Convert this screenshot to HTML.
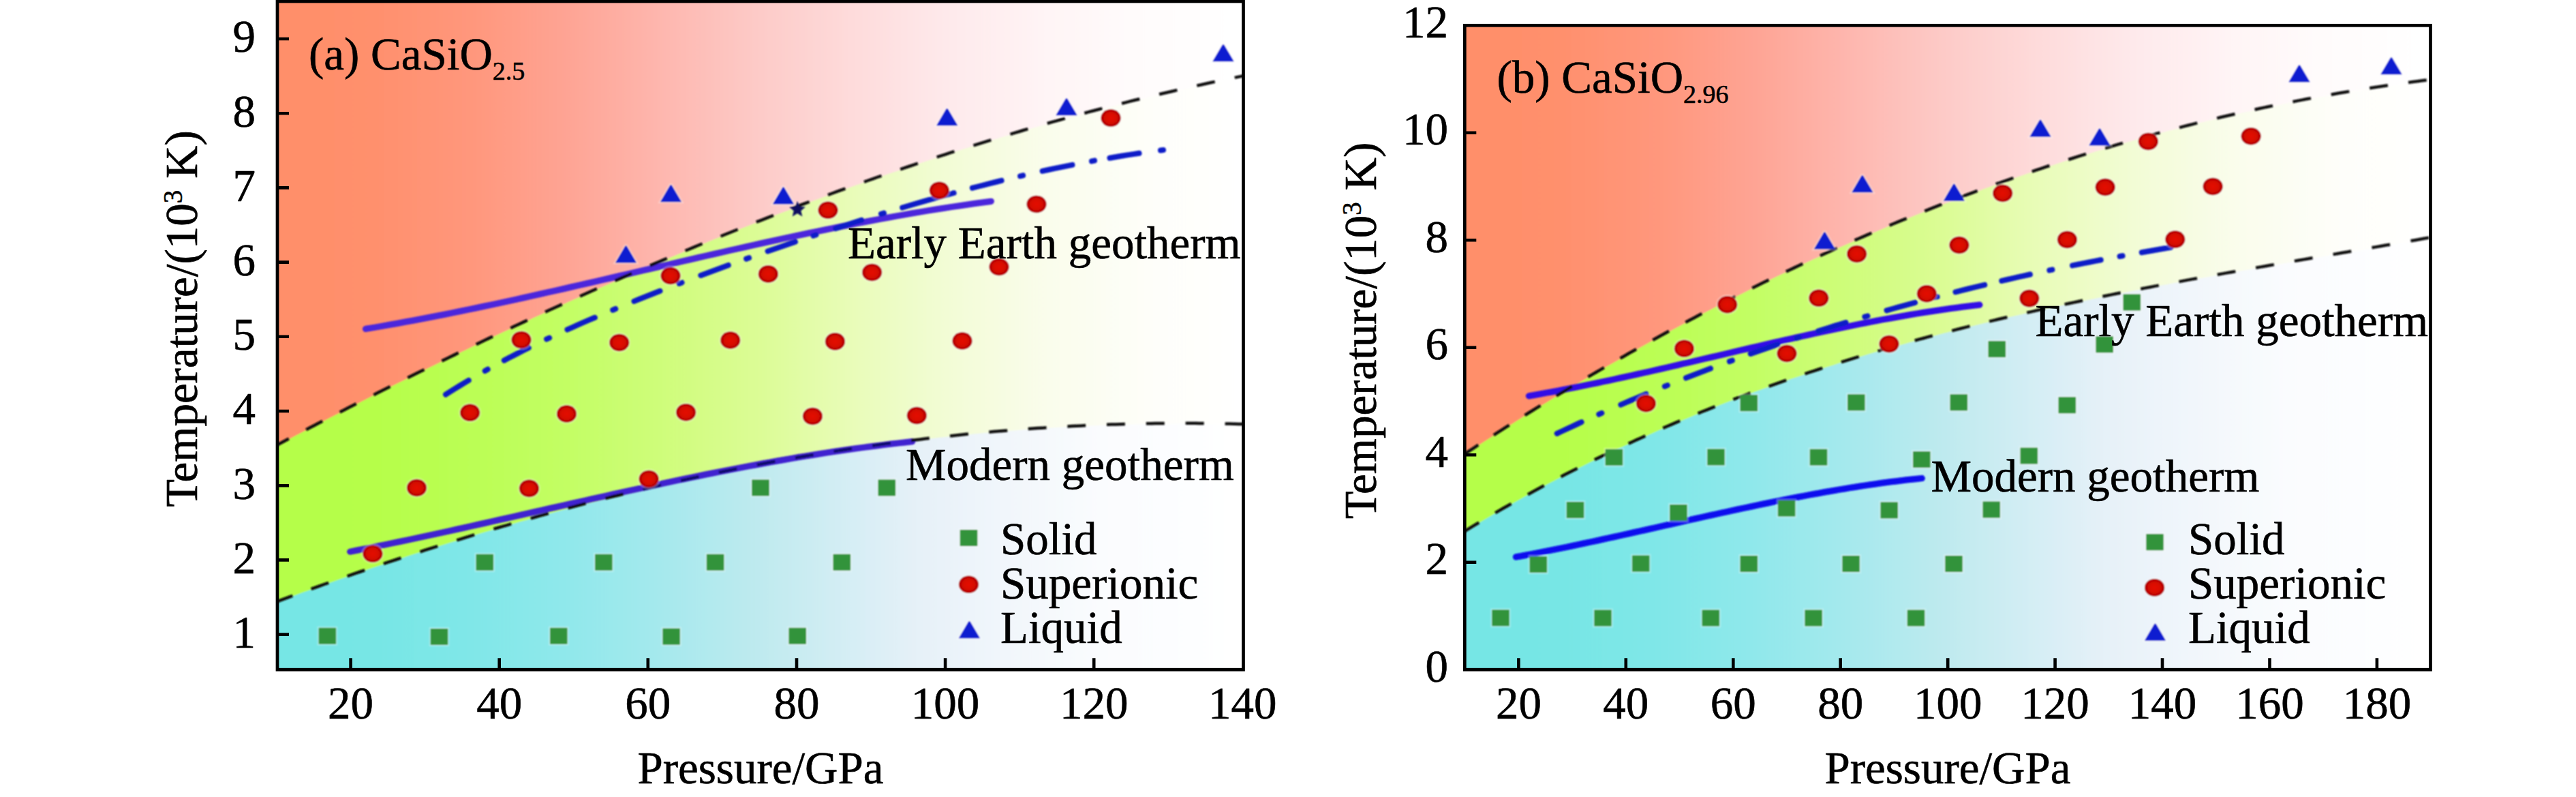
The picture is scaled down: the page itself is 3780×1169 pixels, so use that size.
<!DOCTYPE html>
<html><head><meta charset="utf-8"><title>Phase diagram</title>
<style>html,body{margin:0;padding:0;background:#fff;}svg{display:block;}</style></head>
<body>
<svg width="3780" height="1169" viewBox="0 0 3780 1169" font-family='"Liberation Serif", serif' fill="#000">
<defs><filter id="soft" x="-5%" y="-5%" width="110%" height="110%"><feGaussianBlur stdDeviation="1.3"/></filter><filter id="soft0" x="-5%" y="-5%" width="110%" height="110%"><feGaussianBlur stdDeviation="1.0"/></filter><radialGradient id="rg"><stop offset="0" stop-color="#e40c02"/><stop offset="0.55" stop-color="#d80a04"/><stop offset="1" stop-color="#a80000"/></radialGradient></defs>
<rect width="3780" height="1169" fill="#fff"/>
<defs><clipPath id="clipL"><rect x="407.0" y="2.0" width="1417.5" height="980.2"/></clipPath>
<linearGradient id="goL" gradientUnits="userSpaceOnUse" x1="407.0" y1="0" x2="1824.5" y2="0"><stop offset="0" stop-color="rgb(255,143,106)"/><stop offset="0.1" stop-color="rgb(255,144,109)"/><stop offset="0.2" stop-color="rgb(255,151,124)"/><stop offset="0.3" stop-color="rgb(254,164,148)"/><stop offset="0.4" stop-color="rgb(254,183,175)"/><stop offset="0.5" stop-color="rgb(253,203,200)"/><stop offset="0.6" stop-color="rgb(254,220,220)"/><stop offset="0.7" stop-color="rgb(254,234,236)"/><stop offset="0.8" stop-color="rgb(255,245,246)"/><stop offset="0.9" stop-color="rgb(255,252,252)"/><stop offset="1" stop-color="rgb(255,255,255)"/></linearGradient>
<linearGradient id="ggL" gradientUnits="userSpaceOnUse" x1="407.0" y1="0" x2="1824.5" y2="0"><stop offset="0" stop-color="rgb(181,254,72)"/><stop offset="0.1" stop-color="rgb(182,254,74)"/><stop offset="0.2" stop-color="rgb(187,254,84)"/><stop offset="0.3" stop-color="rgb(195,254,100)"/><stop offset="0.4" stop-color="rgb(207,253,123)"/><stop offset="0.5" stop-color="rgb(220,252,150)"/><stop offset="0.6" stop-color="rgb(233,252,186)"/><stop offset="0.7" stop-color="rgb(243,252,215)"/><stop offset="0.8" stop-color="rgb(250,253,236)"/><stop offset="0.9" stop-color="rgb(254,254,249)"/><stop offset="1" stop-color="rgb(255,255,255)"/></linearGradient>
<linearGradient id="gcL" gradientUnits="userSpaceOnUse" x1="407.0" y1="0" x2="1824.5" y2="0"><stop offset="0" stop-color="rgb(118,230,229)"/><stop offset="0.1" stop-color="rgb(119,230,229)"/><stop offset="0.2" stop-color="rgb(128,231,232)"/><stop offset="0.3" stop-color="rgb(144,232,235)"/><stop offset="0.4" stop-color="rgb(166,233,237)"/><stop offset="0.5" stop-color="rgb(191,234,239)"/><stop offset="0.6" stop-color="rgb(215,238,245)"/><stop offset="0.665" stop-color="rgb(230,241,248)"/><stop offset="0.75" stop-color="rgb(241,246,251)"/><stop offset="0.85" stop-color="rgb(250,252,254)"/><stop offset="1" stop-color="rgb(255,255,255)"/></linearGradient>
</defs>
<g clip-path="url(#clipL)">
<g filter="url(#soft0)">
<rect x="398.0" y="-7.0" width="1435.5" height="998.2" fill="url(#goL)"/>
<path d="M398.0,657.8 L415.2,648.9 L425.5,643.5 L435.7,638.1 L445.9,632.7 L456.1,627.4 L466.4,622.0 L476.6,616.7 L486.8,611.4 L497.0,606.2 L507.3,600.9 L517.5,595.7 L527.7,590.5 L537.9,585.3 L548.2,580.1 L558.4,574.9 L568.6,569.8 L578.9,564.6 L589.1,559.5 L599.3,554.4 L609.5,549.4 L619.8,544.3 L630.0,539.3 L640.2,534.3 L650.4,529.3 L660.7,524.3 L670.9,519.3 L681.1,514.4 L691.3,509.5 L701.6,504.6 L711.8,499.7 L722.0,494.8 L732.3,490.0 L742.5,485.2 L752.7,480.4 L762.9,475.6 L773.2,470.9 L783.4,466.1 L793.6,461.4 L803.8,456.7 L814.1,452.0 L824.3,447.4 L834.5,442.8 L844.7,438.2 L855.0,433.6 L865.2,429.0 L875.4,424.5 L885.7,419.9 L895.9,415.4 L906.1,411.0 L916.3,406.5 L926.6,402.1 L936.8,397.7 L947.0,393.3 L957.2,388.9 L967.5,384.6 L977.7,380.2 L987.9,375.9 L998.1,371.7 L1008.4,367.4 L1018.6,363.2 L1028.8,359.0 L1039.1,354.8 L1049.3,350.6 L1059.5,346.5 L1069.7,342.4 L1080.0,338.3 L1090.2,334.3 L1100.4,330.2 L1110.6,326.2 L1120.9,322.2 L1131.1,318.2 L1141.3,314.3 L1151.5,310.4 L1161.8,306.5 L1172.0,302.6 L1182.2,298.8 L1192.4,295.0 L1202.7,291.2 L1212.9,287.4 L1223.1,283.7 L1233.4,280.0 L1243.6,276.3 L1253.8,272.6 L1264.0,269.0 L1274.3,265.3 L1284.5,261.8 L1294.7,258.2 L1304.9,254.7 L1315.2,251.2 L1325.4,247.7 L1335.6,244.2 L1345.8,240.8 L1356.1,237.4 L1366.3,234.0 L1376.5,230.7 L1386.8,227.3 L1397.0,224.1 L1407.2,220.8 L1417.4,217.5 L1427.7,214.3 L1437.9,211.2 L1448.1,208.0 L1458.3,204.9 L1468.6,201.8 L1478.8,198.7 L1489.0,195.6 L1499.2,192.6 L1509.5,189.6 L1519.7,186.7 L1529.9,183.8 L1540.2,180.9 L1550.4,178.0 L1560.6,175.1 L1570.8,172.3 L1581.1,169.5 L1591.3,166.8 L1601.5,164.1 L1611.7,161.4 L1622.0,158.7 L1632.2,156.1 L1642.4,153.4 L1652.6,150.9 L1662.9,148.3 L1673.1,145.8 L1683.3,143.3 L1693.6,140.8 L1703.8,138.4 L1714.0,136.0 L1724.2,133.7 L1734.5,131.3 L1744.7,129.0 L1754.9,126.7 L1765.1,124.5 L1775.4,122.3 L1785.6,120.1 L1795.8,118.0 L1806.0,115.8 L1816.3,113.8 L1833.5,111.7 L1833.5,991.2 L398.0,991.2Z" fill="url(#ggL)"/>
<path d="M398.0,887.1 L415.2,879.8 L425.5,876.1 L435.7,872.3 L445.9,868.6 L456.1,864.9 L466.4,861.2 L476.6,857.5 L486.8,853.9 L497.0,850.3 L507.3,846.7 L517.5,843.1 L527.7,839.6 L537.9,836.1 L548.2,832.6 L558.4,829.2 L568.6,825.8 L578.9,822.3 L589.1,819.0 L599.3,815.6 L609.5,812.3 L619.8,809.0 L630.0,805.7 L640.2,802.5 L650.4,799.3 L660.7,796.1 L670.9,792.9 L681.1,789.7 L691.3,786.6 L701.6,783.5 L711.8,780.5 L722.0,777.4 L732.3,774.4 L742.5,771.5 L752.7,768.5 L762.9,765.6 L773.2,762.7 L783.4,759.8 L793.6,756.9 L803.8,754.1 L814.1,751.3 L824.3,748.6 L834.5,745.8 L844.7,743.1 L855.0,740.4 L865.2,737.8 L875.4,735.2 L885.7,732.6 L895.9,730.0 L906.1,727.5 L916.3,724.9 L926.6,722.5 L936.8,720.0 L947.0,717.6 L957.2,715.2 L967.5,712.8 L977.7,710.4 L987.9,708.1 L998.1,705.8 L1008.4,703.6 L1018.6,701.4 L1028.8,699.2 L1039.1,697.0 L1049.3,694.8 L1059.5,692.7 L1069.7,690.7 L1080.0,688.6 L1090.2,686.6 L1100.4,684.6 L1110.6,682.6 L1120.9,680.7 L1131.1,678.8 L1141.3,676.9 L1151.5,675.0 L1161.8,673.2 L1172.0,671.4 L1182.2,669.7 L1192.4,668.0 L1202.7,666.3 L1212.9,664.6 L1223.1,663.0 L1233.4,661.4 L1243.6,659.8 L1253.8,658.2 L1264.0,656.7 L1274.3,655.2 L1284.5,653.8 L1294.7,652.4 L1304.9,651.0 L1315.2,649.6 L1325.4,648.3 L1335.6,647.0 L1345.8,645.7 L1356.1,644.5 L1366.3,643.3 L1376.5,642.1 L1386.8,641.0 L1397.0,639.9 L1407.2,638.8 L1417.4,637.8 L1427.7,636.8 L1437.9,635.8 L1448.1,634.8 L1458.3,633.9 L1468.6,633.0 L1478.8,632.2 L1489.0,631.4 L1499.2,630.6 L1509.5,629.8 L1519.7,629.1 L1529.9,628.4 L1540.2,627.7 L1550.4,627.1 L1560.6,626.5 L1570.8,626.0 L1581.1,625.5 L1591.3,625.0 L1601.5,624.5 L1611.7,624.1 L1622.0,623.7 L1632.2,623.3 L1642.4,623.0 L1652.6,622.7 L1662.9,622.5 L1673.1,622.2 L1683.3,622.0 L1693.6,621.9 L1703.8,621.8 L1714.0,621.7 L1724.2,621.6 L1734.5,621.6 L1744.7,621.6 L1754.9,621.7 L1765.1,621.7 L1775.4,621.9 L1785.6,622.0 L1795.8,622.2 L1806.0,622.4 L1816.3,622.7 L1833.5,623.0 L1833.5,991.2 L398.0,991.2Z" fill="url(#gcL)"/>
</g>
<g filter="url(#soft)">
<path d="M513.7,809.2 L524.1,807.1 L534.6,805.0 L545.0,803.0 L555.5,800.8 L565.9,798.7 L576.4,796.5 L586.8,794.4 L597.2,792.2 L607.7,790.0 L618.1,787.7 L628.6,785.5 L639.0,783.2 L649.4,781.0 L659.9,778.7 L670.3,776.4 L680.8,774.1 L691.2,771.8 L701.7,769.4 L712.1,767.1 L722.5,764.8 L733.0,762.4 L743.4,760.1 L753.9,757.7 L764.3,755.4 L774.7,753.0 L785.2,750.6 L795.6,748.3 L806.1,745.9 L816.5,743.6 L827.0,741.2 L837.4,738.9 L847.8,736.5 L858.3,734.2 L868.7,731.8 L879.2,729.5 L889.6,727.2 L900.0,724.8 L910.5,722.5 L920.9,720.2 L931.4,718.0 L941.8,715.7 L952.3,713.4 L962.7,711.2 L973.1,709.0 L983.6,706.7 L994.0,704.5 L1004.5,702.4 L1014.9,700.2 L1025.3,698.1 L1035.8,695.9 L1046.2,693.9 L1056.7,691.8 L1067.1,689.7 L1077.6,687.7 L1088.0,685.7 L1098.4,683.7 L1108.9,681.8 L1119.3,679.9 L1129.8,678.0 L1140.2,676.1 L1150.6,674.3 L1161.1,672.5 L1171.5,670.7 L1182.0,669.0 L1192.4,667.3 L1202.9,665.6 L1213.3,664.0 L1223.7,662.4 L1234.2,660.9 L1244.6,659.4 L1255.1,657.9 L1265.5,656.5 L1275.9,655.1 L1286.4,653.8 L1296.8,652.5 L1307.3,651.2 L1317.7,650.0 L1328.2,648.8 L1338.6,647.7" fill="none" stroke="#4022d0" stroke-width="9.3" stroke-linecap="round"/>
<path d="M536.6,482.4 L548.2,480.5 L559.8,478.5 L571.4,476.4 L583.1,474.3 L594.7,472.2 L606.3,470.1 L617.9,467.9 L629.5,465.6 L641.1,463.4 L652.8,461.1 L664.4,458.7 L676.0,456.4 L687.6,454.0 L699.2,451.6 L710.8,449.1 L722.5,446.7 L734.1,444.2 L745.7,441.7 L757.3,439.2 L768.9,436.6 L780.5,434.0 L792.2,431.4 L803.8,428.8 L815.4,426.2 L827.0,423.6 L838.6,420.9 L850.2,418.3 L861.9,415.6 L873.5,413.0 L885.1,410.3 L896.7,407.6 L908.3,404.9 L919.9,402.2 L931.6,399.5 L943.2,396.8 L954.8,394.1 L966.4,391.4 L978.0,388.7 L989.6,386.0 L1001.3,383.3 L1012.9,380.6 L1024.5,377.9 L1036.1,375.3 L1047.7,372.6 L1059.3,370.0 L1071.0,367.3 L1082.6,364.7 L1094.2,362.1 L1105.8,359.5 L1117.4,356.9 L1129.0,354.4 L1140.7,351.9 L1152.3,349.3 L1163.9,346.8 L1175.5,344.4 L1187.1,341.9 L1198.7,339.5 L1210.4,337.1 L1222.0,334.8 L1233.6,332.4 L1245.2,330.1 L1256.8,327.8 L1268.4,325.6 L1280.1,323.4 L1291.7,321.2 L1303.3,319.1 L1314.9,317.0 L1326.5,315.0 L1338.1,312.9 L1349.8,311.0 L1361.4,309.0 L1373.0,307.2 L1384.6,305.3 L1396.2,303.5 L1407.8,301.8 L1419.5,300.1 L1431.1,298.4 L1442.7,296.9 L1454.3,295.3" fill="none" stroke="#4c26dc" stroke-width="9.3" stroke-linecap="round"/>
<path d="M654.0,578.7 L660.7,574.4 L667.5,570.2 L674.2,566.0 L681.0,561.9 L687.7,557.9 M711.7,544.0 L715.7,541.7 M739.8,528.6 L747.0,524.8 L754.2,521.1 L761.4,517.4 L768.6,513.7 L775.8,510.2 M802.1,497.4 L806.1,495.6 M832.5,483.4 L840.6,479.8 L848.7,476.2 L856.7,472.7 L864.8,469.2 L872.9,465.8 M899.2,454.7 L903.2,453.0 M930.5,441.9 L938.1,438.8 L945.7,435.8 L953.3,432.8 L960.9,429.7 L968.5,426.8 M996.5,415.9 L1000.5,414.4 M1028.3,403.9 L1036.4,400.9 L1044.5,397.9 L1052.6,394.9 L1060.7,392.0 L1068.8,389.0 M1095.1,379.6 L1099.1,378.2 M1126.6,368.5 L1134.7,365.7 L1142.8,363.0 L1150.8,360.2 L1158.9,357.4 L1167.0,354.7 M1193.4,345.8 L1197.4,344.5 M1226.0,335.1 L1233.6,332.6 L1241.3,330.2 L1248.9,327.7 L1256.6,325.3 L1264.2,322.9 M1293.0,313.9 L1297.0,312.7 M1324.2,304.5 L1339.3,300.0 L1354.4,295.6 L1369.4,291.3 L1384.5,287.1 L1399.6,283.0 M1426.9,275.7 L1435.4,273.5 L1444.0,271.3 L1452.5,269.1 L1461.1,267.0 L1469.6,264.9 M1497.1,258.3 L1501.1,257.4 M1529.7,250.9 L1538.5,249.0 L1547.2,247.2 L1556.0,245.3 L1564.7,243.6 L1573.5,241.8 M1602.0,236.4 L1606.0,235.6 M1628.5,231.7 L1637.1,230.2 L1645.7,228.8 L1654.3,227.4 L1662.9,226.1 L1671.5,224.8 M1703.0,220.5 L1707.0,220.0" fill="none" stroke="#0a1ec8" stroke-width="8" stroke-linecap="round"/>
<path d="M405.0,653.5 L409.7,651.0 L414.4,648.5 L419.1,646.0 L423.8,643.5 M449.2,630.2 L455.2,627.1 L461.2,623.9 L467.2,620.8 L473.2,617.7 M498.7,604.5 L504.7,601.4 L510.7,598.3 L516.7,595.3 L522.7,592.2 M548.4,579.2 L554.4,576.1 L560.5,573.1 L566.5,570.0 L572.5,567.0 M598.3,554.1 L604.4,551.1 L610.4,548.1 L616.5,545.1 L622.5,542.2 M648.4,529.4 L654.5,526.5 L660.6,523.5 L666.6,520.6 L672.7,517.6 M698.8,505.1 L704.8,502.2 L710.9,499.3 L717.0,496.4 L723.1,493.5 M749.3,481.2 L755.4,478.3 L761.5,475.5 L767.7,472.6 L773.8,469.8 M800.1,457.6 L806.2,454.8 L812.4,452.0 L818.5,449.2 L824.7,446.4 M851.1,434.5 L857.3,431.7 L863.4,429.0 L869.6,426.2 L875.8,423.5 M902.4,411.8 L908.5,409.1 L914.7,406.4 L920.9,403.7 L927.1,401.0 M953.9,389.6 L960.1,386.9 L966.3,384.3 L972.5,381.6 L978.7,379.0 M1005.6,367.8 L1011.8,365.2 L1018.1,362.6 L1024.3,360.0 L1030.5,357.5 M1057.6,346.5 L1063.8,344.0 L1070.1,341.5 L1076.4,339.0 L1082.6,336.5 M1109.8,325.7 L1116.1,323.3 L1122.4,320.8 L1128.7,318.4 L1135.0,316.0 M1162.3,305.5 L1168.6,303.1 L1174.9,300.7 L1181.2,298.4 L1187.6,296.0 M1215.0,285.8 L1221.4,283.5 L1227.7,281.2 L1234.0,278.9 L1240.4,276.6 M1268.0,266.8 L1274.4,264.5 L1280.7,262.3 L1287.1,260.0 L1293.5,257.8 M1321.2,248.3 L1327.6,246.1 L1334.0,244.0 L1340.4,241.8 L1346.8,239.7 M1374.7,230.4 L1381.2,228.4 L1387.6,226.3 L1394.0,224.2 L1400.4,222.1 M1428.5,213.3 L1434.9,211.3 L1441.4,209.3 L1447.8,207.3 L1454.3,205.3 M1482.5,196.8 L1489.0,194.9 L1495.5,193.0 L1501.9,191.0 L1508.4,189.2 M1536.8,181.0 L1543.3,179.2 L1549.8,177.4 L1556.3,175.5 L1562.8,173.7 M1591.3,166.0 L1597.8,164.2 L1604.3,162.5 L1610.9,160.8 L1617.4,159.1 M1646.1,151.7 L1652.6,150.1 L1659.1,148.4 L1665.7,146.8 L1672.3,145.2 M1701.1,138.3 L1707.6,136.7 L1714.2,135.2 L1720.8,133.7 L1727.4,132.1 M1756.3,125.6 L1762.9,124.2 L1769.5,122.8 L1776.1,121.3 L1782.7,119.9 M1811.8,113.9 L1815.4,113.1 L1819.1,112.4 L1822.8,111.6 L1826.5,110.9" fill="none" stroke="#0e0e10" stroke-width="4.5"/>
<path d="M405.0,882.8 L411.1,880.6 L417.1,878.3 L423.2,876.1 L429.3,873.9 M456.6,863.9 L463.0,861.6 L469.3,859.3 L475.7,857.0 L482.1,854.8 M509.6,845.1 L516.0,842.9 L522.4,840.7 L528.8,838.5 L535.2,836.3 M562.9,826.9 L569.3,824.7 L575.7,822.6 L582.1,820.5 L588.5,818.4 M616.5,809.3 L622.9,807.2 L629.3,805.1 L635.8,803.1 L642.2,801.1 M670.3,792.3 L676.8,790.3 L683.2,788.3 L689.7,786.3 L696.1,784.4 M724.4,775.9 L730.9,774.0 L737.4,772.1 L743.9,770.3 L750.3,768.4 M778.8,760.3 L785.3,758.5 L791.8,756.6 L798.3,754.8 L804.8,753.1 M833.5,745.3 L840.0,743.6 L846.5,741.9 L853.1,740.1 L859.6,738.4 M888.4,731.1 L895.0,729.4 L901.5,727.8 L908.1,726.2 L914.6,724.6 M1337.0,646.0 L1343.7,645.2 L1350.4,644.4 L1357.1,643.6 L1363.8,642.8 M1394.0,639.4 L1400.8,638.7 L1407.5,638.0 L1414.2,637.3 L1420.9,636.6 M1451.3,633.7 L1458.0,633.1 L1464.7,632.6 L1471.5,632.0 L1478.2,631.4 M1508.7,629.1 L1515.4,628.6 L1522.2,628.1 L1528.9,627.7 L1535.6,627.2 M1566.3,625.4 L1573.0,625.1 L1579.7,624.7 L1586.5,624.4 L1593.2,624.1 M1624.0,622.8 L1630.7,622.6 L1637.4,622.4 L1644.2,622.2 L1650.9,622.0 M1681.8,621.3 L1688.5,621.2 L1695.3,621.1 L1702.0,621.0 L1708.8,620.9 M1739.7,620.8 L1746.4,620.8 L1753.2,620.8 L1759.9,620.9 L1766.7,621.0 M1797.6,621.4 L1804.4,621.6 L1811.1,621.7 L1817.9,621.9 L1824.6,622.1" fill="none" stroke="#0e0e10" stroke-width="4.5"/>
<path d="M943.6,717.6 L950.2,716.0 L956.8,714.5 L963.4,712.9 L969.9,711.4 M999.1,704.8 L1005.7,703.4 L1012.3,701.9 L1018.9,700.5 L1025.5,699.1 M1054.8,692.9 L1061.4,691.5 L1068.1,690.2 L1074.7,688.9 L1081.3,687.5 M1110.8,681.8 L1117.4,680.5 L1124.1,679.3 L1130.7,678.0 L1137.4,676.8 M1167.0,671.5 L1173.7,670.4 L1180.3,669.2 L1187.0,668.1 L1193.6,667.0 M1223.5,662.1 L1230.1,661.1 L1236.8,660.0 L1243.5,659.0 L1250.1,658.0 M1280.1,653.6 L1286.8,652.7 L1293.5,651.7 L1300.2,650.8 L1306.9,649.9" fill="none" stroke="#0c0a6a" stroke-width="4.5"/>
<g fill="#32933a" stroke="#fff" stroke-opacity="0.3" stroke-width="4" paint-order="stroke">
<rect x="1103.2" y="703.4" width="25.6" height="24"/>
<rect x="1288.5" y="703.4" width="25.6" height="24"/>
<rect x="698.5" y="812.8" width="25.6" height="24"/>
<rect x="873.0" y="812.8" width="25.6" height="24"/>
<rect x="1036.8" y="812.8" width="25.6" height="24"/>
<rect x="1222.5" y="812.8" width="25.6" height="24"/>
<rect x="467.6" y="920.8" width="25.6" height="24"/>
<rect x="631.7" y="922.0" width="25.6" height="24"/>
<rect x="807.0" y="920.8" width="25.6" height="24"/>
<rect x="972.3" y="921.7" width="25.6" height="24"/>
<rect x="1157.4" y="920.8" width="25.6" height="24"/>
<rect x="1408.7" y="777.0" width="25.6" height="24"/>
</g><g fill="url(#rg)" stroke="#fff" stroke-opacity="0.3" stroke-width="4" paint-order="stroke">
<ellipse cx="1630.0" cy="173.1" rx="14.6" ry="12.8"/>
<ellipse cx="1215.0" cy="308.2" rx="14.6" ry="12.8"/>
<ellipse cx="1378.3" cy="279.3" rx="14.6" ry="12.8"/>
<ellipse cx="1521.0" cy="299.5" rx="14.6" ry="12.8"/>
<ellipse cx="984.0" cy="404.5" rx="14.6" ry="12.8"/>
<ellipse cx="1127.3" cy="401.9" rx="14.6" ry="12.8"/>
<ellipse cx="1279.6" cy="399.5" rx="14.6" ry="12.8"/>
<ellipse cx="1466.0" cy="391.5" rx="14.6" ry="12.8"/>
<ellipse cx="765.0" cy="498.5" rx="14.6" ry="12.8"/>
<ellipse cx="908.7" cy="502.5" rx="14.6" ry="12.8"/>
<ellipse cx="1071.7" cy="499.0" rx="14.6" ry="12.8"/>
<ellipse cx="1225.4" cy="500.9" rx="14.6" ry="12.8"/>
<ellipse cx="1412.0" cy="500.0" rx="14.6" ry="12.8"/>
<ellipse cx="689.6" cy="605.2" rx="14.6" ry="12.8"/>
<ellipse cx="831.5" cy="607.0" rx="14.6" ry="12.8"/>
<ellipse cx="1006.6" cy="604.8" rx="14.6" ry="12.8"/>
<ellipse cx="1192.4" cy="610.5" rx="14.6" ry="12.8"/>
<ellipse cx="1345.3" cy="609.5" rx="14.6" ry="12.8"/>
<ellipse cx="611.5" cy="715.5" rx="14.6" ry="12.8"/>
<ellipse cx="776.4" cy="716.4" rx="14.6" ry="12.8"/>
<ellipse cx="952.1" cy="702.5" rx="14.6" ry="12.8"/>
<ellipse cx="546.9" cy="812.2" rx="14.6" ry="12.8"/>
<ellipse cx="1421.5" cy="857.3" rx="14.6" ry="12.8"/>
</g><g fill="#0a1ed0" stroke="#fff" stroke-opacity="0.3" stroke-width="4" paint-order="stroke">
<path d="M902.8,385.5 L934.2,385.5 L919.5,360.5 L917.5,360.5Z"/>
<path d="M968.8,296.3 L1000.2,296.3 L985.5,271.3 L983.5,271.3Z"/>
<path d="M1133.8,299.5 L1165.2,299.5 L1150.5,274.5 L1148.5,274.5Z"/>
<path d="M1374.0,184.2 L1405.5,184.2 L1390.7,159.2 L1388.7,159.2Z"/>
<path d="M1549.2,169.3 L1580.8,169.3 L1566.0,144.3 L1564.0,144.3Z"/>
<path d="M1779.2,90.2 L1810.8,90.2 L1796.0,65.2 L1794.0,65.2Z"/>
<path d="M1406.7,936.2 L1438.2,936.2 L1423.4,911.2 L1421.4,911.2Z"/>
</g><g fill="#0a1060">
<path d="M1170.0,295.0 L1173.3,302.9 L1181.9,303.6 L1175.3,309.2 L1177.3,317.6 L1170.0,313.1 L1162.7,317.6 L1164.7,309.2 L1158.1,303.6 L1166.7,302.9Z"/>
</g></g></g>
<rect x="407.0" y="2.0" width="1417.5" height="980.2" fill="none" stroke="#000" stroke-width="4.7"/>
<defs><clipPath id="clipR"><rect x="2149.3" y="37.3" width="1417.1999999999998" height="944.9000000000001"/></clipPath>
<linearGradient id="goR" gradientUnits="userSpaceOnUse" x1="2149.3" y1="0" x2="3566.5" y2="0"><stop offset="0" stop-color="rgb(255,143,106)"/><stop offset="0.1" stop-color="rgb(255,144,109)"/><stop offset="0.2" stop-color="rgb(255,151,124)"/><stop offset="0.3" stop-color="rgb(254,164,148)"/><stop offset="0.4" stop-color="rgb(254,183,175)"/><stop offset="0.5" stop-color="rgb(253,203,200)"/><stop offset="0.6" stop-color="rgb(254,220,220)"/><stop offset="0.7" stop-color="rgb(254,234,236)"/><stop offset="0.8" stop-color="rgb(255,245,246)"/><stop offset="0.9" stop-color="rgb(255,252,252)"/><stop offset="1" stop-color="rgb(255,255,255)"/></linearGradient>
<linearGradient id="ggR" gradientUnits="userSpaceOnUse" x1="2149.3" y1="0" x2="3566.5" y2="0"><stop offset="0" stop-color="rgb(181,254,72)"/><stop offset="0.1" stop-color="rgb(182,254,74)"/><stop offset="0.2" stop-color="rgb(187,254,84)"/><stop offset="0.3" stop-color="rgb(195,254,100)"/><stop offset="0.4" stop-color="rgb(207,253,123)"/><stop offset="0.5" stop-color="rgb(220,252,150)"/><stop offset="0.6" stop-color="rgb(233,252,186)"/><stop offset="0.7" stop-color="rgb(243,252,215)"/><stop offset="0.8" stop-color="rgb(250,253,236)"/><stop offset="0.9" stop-color="rgb(254,254,249)"/><stop offset="1" stop-color="rgb(255,255,255)"/></linearGradient>
<linearGradient id="gcR" gradientUnits="userSpaceOnUse" x1="2149.3" y1="0" x2="3566.5" y2="0"><stop offset="0" stop-color="rgb(118,230,229)"/><stop offset="0.1" stop-color="rgb(119,230,229)"/><stop offset="0.2" stop-color="rgb(128,231,232)"/><stop offset="0.3" stop-color="rgb(144,232,235)"/><stop offset="0.4" stop-color="rgb(166,233,237)"/><stop offset="0.5" stop-color="rgb(191,234,239)"/><stop offset="0.6" stop-color="rgb(215,238,245)"/><stop offset="0.665" stop-color="rgb(230,241,248)"/><stop offset="0.75" stop-color="rgb(241,246,251)"/><stop offset="0.85" stop-color="rgb(250,252,254)"/><stop offset="1" stop-color="rgb(255,255,255)"/></linearGradient>
</defs>
<g clip-path="url(#clipR)">
<g filter="url(#soft0)">
<rect x="2140.3" y="28.299999999999997" width="1435.1999999999998" height="962.9000000000001" fill="url(#goR)"/>
<path d="M2140.3,671.4 L2157.5,661.2 L2167.7,654.5 L2178.0,647.8 L2188.2,641.2 L2198.4,634.7 L2208.6,628.2 L2218.9,621.7 L2229.1,615.2 L2239.3,608.8 L2249.5,602.5 L2259.8,596.1 L2270.0,589.9 L2280.2,583.6 L2290.4,577.4 L2300.7,571.3 L2310.9,565.2 L2321.1,559.1 L2331.3,553.1 L2341.6,547.1 L2351.8,541.1 L2362.0,535.2 L2372.2,529.4 L2382.5,523.5 L2392.7,517.7 L2402.9,512.0 L2413.1,506.3 L2423.4,500.6 L2433.6,495.0 L2443.8,489.4 L2454.0,483.9 L2464.3,478.4 L2474.5,472.9 L2484.7,467.5 L2494.9,462.1 L2505.2,456.8 L2515.4,451.5 L2525.6,446.2 L2535.8,441.0 L2546.1,435.8 L2556.3,430.7 L2566.5,425.6 L2576.7,420.5 L2587.0,415.5 L2597.2,410.6 L2607.4,405.6 L2617.6,400.7 L2627.8,395.9 L2638.1,391.1 L2648.3,386.3 L2658.5,381.5 L2668.7,376.9 L2679.0,372.2 L2689.2,367.6 L2699.4,363.0 L2709.6,358.5 L2719.9,354.0 L2730.1,349.5 L2740.3,345.1 L2750.5,340.7 L2760.8,336.4 L2771.0,332.1 L2781.2,327.9 L2791.4,323.6 L2801.7,319.5 L2811.9,315.3 L2822.1,311.2 L2832.3,307.2 L2842.6,303.2 L2852.8,299.2 L2863.0,295.2 L2873.2,291.3 L2883.5,287.5 L2893.7,283.7 L2903.9,279.9 L2914.1,276.1 L2924.4,272.4 L2934.6,268.8 L2944.8,265.2 L2955.0,261.6 L2965.3,258.0 L2975.5,254.5 L2985.7,251.0 L2995.9,247.6 L3006.2,244.2 L3016.4,240.9 L3026.6,237.6 L3036.8,234.3 L3047.1,231.1 L3057.3,227.9 L3067.5,224.7 L3077.7,221.6 L3088.0,218.5 L3098.2,215.5 L3108.4,212.5 L3118.6,209.5 L3128.8,206.6 L3139.1,203.7 L3149.3,200.9 L3159.5,198.1 L3169.7,195.3 L3180.0,192.6 L3190.2,189.9 L3200.4,187.2 L3210.6,184.6 L3220.9,182.1 L3231.1,179.5 L3241.3,177.0 L3251.5,174.6 L3261.8,172.2 L3272.0,169.8 L3282.2,167.4 L3292.4,165.1 L3302.7,162.9 L3312.9,160.6 L3323.1,158.4 L3333.3,156.3 L3343.6,154.2 L3353.8,152.1 L3364.0,150.1 L3374.2,148.1 L3384.5,146.1 L3394.7,144.2 L3404.9,142.3 L3415.1,140.4 L3425.4,138.6 L3435.6,136.9 L3445.8,135.1 L3456.0,133.4 L3466.3,131.8 L3476.5,130.2 L3486.7,128.6 L3496.9,127.0 L3507.2,125.5 L3517.4,124.1 L3527.6,122.6 L3537.8,121.2 L3548.1,119.9 L3558.3,118.6 L3575.5,117.3 L3575.5,991.2 L2140.3,991.2Z" fill="url(#ggR)"/>
<path d="M2140.3,784.6 L2157.5,774.9 L2167.7,768.7 L2178.0,762.6 L2188.2,756.6 L2198.4,750.6 L2208.6,744.7 L2218.9,738.9 L2229.1,733.2 L2239.3,727.5 L2249.5,721.9 L2259.8,716.3 L2270.0,710.8 L2280.2,705.4 L2290.4,700.1 L2300.7,694.8 L2310.9,689.6 L2321.1,684.4 L2331.3,679.3 L2341.6,674.3 L2351.8,669.3 L2362.0,664.4 L2372.2,659.5 L2382.5,654.7 L2392.7,650.0 L2402.9,645.3 L2413.1,640.7 L2423.4,636.2 L2433.6,631.6 L2443.8,627.2 L2454.0,622.8 L2464.3,618.5 L2474.5,614.2 L2484.7,610.0 L2494.9,605.8 L2505.2,601.7 L2515.4,597.6 L2525.6,593.6 L2535.8,589.6 L2546.1,585.7 L2556.3,581.8 L2566.5,578.0 L2576.7,574.3 L2587.0,570.5 L2597.2,566.9 L2607.4,563.2 L2617.6,559.7 L2627.8,556.1 L2638.1,552.7 L2648.3,549.2 L2658.5,545.8 L2668.7,542.5 L2679.0,539.1 L2689.2,535.9 L2699.4,532.6 L2709.6,529.5 L2719.9,526.3 L2730.1,523.2 L2740.3,520.1 L2750.5,517.1 L2760.8,514.1 L2771.0,511.2 L2781.2,508.2 L2791.4,505.4 L2801.7,502.5 L2811.9,499.7 L2822.1,496.9 L2832.3,494.2 L2842.6,491.5 L2852.8,488.8 L2863.0,486.2 L2873.2,483.6 L2883.5,481.0 L2893.7,478.4 L2903.9,475.9 L2914.1,473.4 L2924.4,471.0 L2934.6,468.5 L2944.8,466.1 L2955.0,463.8 L2965.3,461.4 L2975.5,459.1 L2985.7,456.8 L2995.9,454.5 L3006.2,452.3 L3016.4,450.0 L3026.6,447.8 L3036.8,445.7 L3047.1,443.5 L3057.3,441.4 L3067.5,439.2 L3077.7,437.2 L3088.0,435.1 L3098.2,433.0 L3108.4,431.0 L3118.6,429.0 L3128.8,426.9 L3139.1,425.0 L3149.3,423.0 L3159.5,421.0 L3169.7,419.1 L3180.0,417.2 L3190.2,415.2 L3200.4,413.3 L3210.6,411.5 L3220.9,409.6 L3231.1,407.7 L3241.3,405.9 L3251.5,404.0 L3261.8,402.2 L3272.0,400.3 L3282.2,398.5 L3292.4,396.7 L3302.7,394.9 L3312.9,393.1 L3323.1,391.3 L3333.3,389.5 L3343.6,387.8 L3353.8,386.0 L3364.0,384.2 L3374.2,382.4 L3384.5,380.7 L3394.7,378.9 L3404.9,377.1 L3415.1,375.4 L3425.4,373.6 L3435.6,371.9 L3445.8,370.1 L3456.0,368.3 L3466.3,366.6 L3476.5,364.8 L3486.7,363.0 L3496.9,361.2 L3507.2,359.5 L3517.4,357.7 L3527.6,355.9 L3537.8,354.1 L3548.1,352.3 L3558.3,350.5 L3575.5,348.6 L3575.5,991.2 L2140.3,991.2Z" fill="url(#gcR)"/>
</g>
<g filter="url(#soft)">
<path d="M2224.5,816.9 L2232.0,815.6 L2239.6,814.1 L2247.1,812.7 L2254.7,811.2 L2262.2,809.8 L2269.7,808.3 L2277.3,806.8 L2284.8,805.2 L2292.4,803.7 L2299.9,802.2 L2307.4,800.6 L2315.0,799.0 L2322.5,797.4 L2330.1,795.8 L2337.6,794.2 L2345.1,792.6 L2352.7,790.9 L2360.2,789.3 L2367.8,787.6 L2375.3,786.0 L2382.9,784.3 L2390.4,782.6 L2397.9,780.9 L2405.5,779.2 L2413.0,777.6 L2420.6,775.9 L2428.1,774.2 L2435.6,772.5 L2443.2,770.8 L2450.7,769.1 L2458.3,767.4 L2465.8,765.7 L2473.3,764.0 L2480.9,762.3 L2488.4,760.6 L2496.0,759.0 L2503.5,757.3 L2511.0,755.6 L2518.6,754.0 L2526.1,752.3 L2533.7,750.7 L2541.2,749.0 L2548.7,747.4 L2556.3,745.8 L2563.8,744.2 L2571.4,742.6 L2578.9,741.0 L2586.4,739.4 L2594.0,737.9 L2601.5,736.3 L2609.1,734.8 L2616.6,733.3 L2624.1,731.8 L2631.7,730.3 L2639.2,728.9 L2646.8,727.5 L2654.3,726.0 L2661.8,724.6 L2669.4,723.3 L2676.9,721.9 L2684.5,720.6 L2692.0,719.3 L2699.6,718.0 L2707.1,716.8 L2714.6,715.5 L2722.2,714.3 L2729.7,713.2 L2737.3,712.0 L2744.8,710.9 L2752.3,709.8 L2759.9,708.7 L2767.4,707.7 L2775.0,706.7 L2782.5,705.8 L2790.0,704.8 L2797.6,703.9 L2805.1,703.1 L2812.7,702.3 L2820.2,701.5" fill="none" stroke="#0a08ee" stroke-width="9.3" stroke-linecap="round"/>
<path d="M2243.5,580.8 L2251.9,579.3 L2260.2,577.9 L2268.6,576.3 L2277.0,574.8 L2285.4,573.2 L2293.7,571.7 L2302.1,570.0 L2310.5,568.4 L2318.8,566.7 L2327.2,565.0 L2335.6,563.3 L2344.0,561.6 L2352.3,559.8 L2360.7,558.1 L2369.1,556.3 L2377.4,554.4 L2385.8,552.6 L2394.2,550.8 L2402.5,548.9 L2410.9,547.0 L2419.3,545.2 L2427.7,543.3 L2436.0,541.4 L2444.4,539.4 L2452.8,537.5 L2461.1,535.6 L2469.5,533.6 L2477.9,531.7 L2486.3,529.7 L2494.6,527.8 L2503.0,525.8 L2511.4,523.9 L2519.7,521.9 L2528.1,519.9 L2536.5,518.0 L2544.9,516.0 L2553.2,514.0 L2561.6,512.1 L2570.0,510.1 L2578.3,508.2 L2586.7,506.3 L2595.1,504.3 L2603.4,502.4 L2611.8,500.5 L2620.2,498.6 L2628.6,496.7 L2636.9,494.8 L2645.3,493.0 L2653.7,491.1 L2662.0,489.3 L2670.4,487.5 L2678.8,485.7 L2687.2,483.9 L2695.5,482.1 L2703.9,480.4 L2712.3,478.7 L2720.6,477.0 L2729.0,475.3 L2737.4,473.6 L2745.8,472.0 L2754.1,470.4 L2762.5,468.8 L2770.9,467.3 L2779.2,465.8 L2787.6,464.3 L2796.0,462.8 L2804.3,461.4 L2812.7,460.0 L2821.1,458.7 L2829.5,457.3 L2837.8,456.1 L2846.2,454.8 L2854.6,453.6 L2862.9,452.4 L2871.3,451.3 L2879.7,450.2 L2888.1,449.1 L2896.4,448.1 L2904.8,447.2" fill="none" stroke="#3010e6" stroke-width="9.3" stroke-linecap="round"/>
<path d="M2284.7,635.9 L2291.9,632.5 L2299.1,629.2 L2306.2,625.8 L2313.4,622.5 L2320.6,619.2 M2346.3,607.7 L2350.3,605.9 M2378.4,593.6 L2385.8,590.4 L2393.2,587.3 L2400.7,584.1 L2408.1,581.0 L2415.5,577.9 M2442.8,566.7 L2446.8,565.1 M2474.0,554.3 L2481.2,551.5 L2488.4,548.7 L2495.6,546.0 L2502.8,543.2 L2510.0,540.5 M2537.9,530.1 L2541.9,528.7 M2568.7,519.0 L2576.7,516.2 L2584.6,513.4 L2592.6,510.6 L2600.5,507.9 L2608.5,505.2 M2636.0,496.0 L2640.0,494.7 M2668.1,485.6 L2676.2,483.0 L2684.3,480.5 L2692.3,477.9 L2700.4,475.5 L2708.5,473.0 M2736.4,464.6 L2740.4,463.5 M2768.5,455.3 L2776.8,453.0 L2785.1,450.7 L2793.5,448.3 L2801.8,446.1 L2810.1,443.8 M2838.6,436.2 L2842.6,435.2 M2869.5,428.3 L2878.0,426.2 L2886.6,424.0 L2895.1,421.9 L2903.7,419.9 L2912.2,417.8 M2937.3,411.9 L2945.6,410.0 L2953.9,408.1 L2962.3,406.2 L2970.6,404.4 L2978.9,402.5 M3007.4,396.4 L3011.4,395.6 M3041.1,389.4 L3049.4,387.8 L3057.7,386.1 L3066.1,384.5 L3074.4,382.9 L3082.7,381.3 M3110.6,376.0 L3114.6,375.3 M3142.8,370.2 L3151.3,368.7 L3159.9,367.2 L3168.4,365.8 L3177.0,364.3 L3185.5,362.9" fill="none" stroke="#0a1ec8" stroke-width="8" stroke-linecap="round"/>
<path d="M2147.3,667.1 L2152.8,663.5 L2158.3,659.9 L2163.7,656.3 L2169.2,652.7 M2191.9,638.1 L2197.6,634.4 L2203.2,630.8 L2208.9,627.2 L2214.6,623.6 M2237.6,609.1 L2243.3,605.5 L2249.0,602.0 L2254.8,598.4 L2260.5,594.9 M2283.8,580.7 L2289.5,577.2 L2295.3,573.7 L2301.1,570.2 L2306.9,566.8 M2330.4,552.8 L2336.3,549.4 L2342.1,546.0 L2347.9,542.6 L2353.8,539.2 M2377.6,525.5 L2383.5,522.2 L2389.3,518.8 L2395.2,515.5 L2401.1,512.2 M2425.3,498.8 L2431.2,495.5 L2437.1,492.3 L2443.0,489.0 L2449.0,485.8 M2473.4,472.7 L2479.4,469.5 L2485.3,466.4 L2491.3,463.2 L2497.3,460.1 M2522.1,447.2 L2528.1,444.2 L2534.1,441.1 L2540.1,438.0 L2546.1,435.0 M2571.2,422.5 L2577.3,419.5 L2583.3,416.5 L2589.4,413.5 L2595.5,410.6 M2620.9,398.4 L2627.0,395.5 L2633.1,392.6 L2639.2,389.7 L2645.3,386.9 M2671.0,375.0 L2677.1,372.2 L2683.3,369.5 L2689.4,366.7 L2695.6,363.9 M2721.6,352.4 L2727.8,349.7 L2734.0,347.1 L2740.2,344.4 L2746.4,341.7 M2772.7,330.6 L2778.9,328.0 L2785.2,325.4 L2791.4,322.9 L2797.7,320.3 M2824.3,309.6 L2830.5,307.1 L2836.8,304.6 L2843.1,302.1 L2849.4,299.7 M2876.3,289.4 L2882.6,287.0 L2889.0,284.6 L2895.3,282.3 L2901.6,279.9 M2928.8,270.0 L2935.2,267.8 L2941.6,265.5 L2947.9,263.3 L2954.3,261.0 M2981.8,251.6 L2988.2,249.4 L2994.6,247.3 L3001.0,245.1 L3007.4,243.0 M3035.2,234.0 L3041.7,232.0 L3048.1,229.9 L3054.5,227.9 L3061.0,225.9 M3089.1,217.4 L3095.6,215.5 L3102.0,213.6 L3108.5,211.7 L3115.0,209.8 M3143.4,201.7 L3149.9,199.9 L3156.4,198.1 L3162.9,196.4 L3169.4,194.6 M3198.1,187.1 L3204.6,185.4 L3211.1,183.7 L3217.7,182.1 L3224.2,180.4 M3253.2,173.4 L3259.7,171.8 L3266.3,170.3 L3272.9,168.8 L3279.5,167.3 M3308.6,160.8 L3315.2,159.3 L3321.8,157.9 L3328.4,156.5 L3335.0,155.1 M3364.5,149.2 L3371.1,147.9 L3377.7,146.6 L3384.4,145.3 L3391.0,144.1 M3420.7,138.7 L3427.3,137.5 L3434.0,136.3 L3440.6,135.2 L3447.3,134.1 M3477.2,129.2 L3483.8,128.2 L3490.5,127.2 L3497.2,126.2 L3503.9,125.2 M3534.0,121.0 L3540.7,120.0 L3547.4,119.2 L3554.1,118.3 L3560.8,117.4" fill="none" stroke="#0e0e10" stroke-width="4.5"/>
<path d="M2147.3,780.3 L2153.0,776.8 L2158.7,773.4 L2164.4,769.9 L2170.2,766.5 M2194.2,752.3 L2200.0,748.9 L2205.8,745.5 L2211.7,742.2 L2217.6,738.9 M2242.0,725.2 L2247.9,722.0 L2253.8,718.7 L2259.8,715.5 L2265.7,712.3 M2290.5,699.2 L2296.5,696.1 L2302.5,693.0 L2308.5,690.0 L2314.6,686.9 M2339.8,674.3 L2345.9,671.4 L2351.9,668.4 L2358.0,665.5 L2364.1,662.6 M2389.7,650.6 L2395.9,647.7 L2402.0,644.9 L2408.2,642.2 L2414.3,639.4 M2440.3,627.9 L2446.5,625.2 L2452.7,622.6 L2459.0,619.9 L2465.2,617.3 M2491.6,606.4 L2497.8,603.8 L2504.1,601.3 L2510.3,598.8 L2516.6,596.3 M2543.4,585.9 L2549.7,583.5 L2556.0,581.2 L2562.3,578.8 L2568.6,576.4 M2595.7,566.6 L2602.1,564.3 L2608.4,562.1 L2614.8,559.9 L2621.2,557.6 M2648.5,548.3 L2654.9,546.2 L2661.4,544.1 L2667.8,542.0 L2674.2,539.9 M2701.9,531.1 L2708.3,529.1 L2714.8,527.1 L2721.2,525.1 L2727.7,523.1 M2755.6,514.8 L2762.1,512.9 L2768.6,511.1 L2775.1,509.2 L2781.6,507.3 M2809.8,499.5 L2816.3,497.7 L2822.8,496.0 L2829.3,494.2 L2835.8,492.5 M2864.3,485.1 L2870.8,483.4 L2877.4,481.7 L2883.9,480.1 L2890.5,478.4 M2919.1,471.4 L2925.7,469.9 L2932.3,468.3 L2938.8,466.7 L2945.4,465.2 M2974.3,458.6 L2980.9,457.1 L2987.5,455.6 L2994.1,454.1 L3000.6,452.7 M3029.7,446.4 L3036.3,445.0 L3042.9,443.6 L3049.5,442.2 L3056.1,440.8 M3085.4,434.8 L3092.0,433.5 L3098.6,432.1 L3105.3,430.8 L3111.9,429.5 M3141.3,423.7 L3148.0,422.4 L3154.6,421.2 L3161.2,419.9 L3167.8,418.6 M3197.5,413.1 L3204.1,411.9 L3210.7,410.6 L3217.4,409.4 L3224.0,408.2 M3253.8,402.8 L3260.4,401.6 L3267.0,400.4 L3273.7,399.2 L3280.3,398.1 M3310.2,392.8 L3316.9,391.6 L3323.5,390.5 L3330.2,389.3 L3336.8,388.1 M3366.9,382.9 L3373.5,381.8 L3380.2,380.6 L3386.8,379.5 L3393.5,378.3 M3423.6,373.1 L3430.3,372.0 L3436.9,370.8 L3443.6,369.7 L3450.2,368.5 M3480.5,363.3 L3487.1,362.1 L3493.8,361.0 L3500.4,359.8 L3507.1,358.7 M3537.5,353.3 L3544.1,352.2 L3550.8,351.0 L3557.4,349.8 L3564.1,348.6" fill="none" stroke="#0e0e10" stroke-width="4.5"/>
<g fill="#32933a" stroke="#fff" stroke-opacity="0.3" stroke-width="4" paint-order="stroke">
<rect x="3115.5" y="431.5" width="25.6" height="24"/>
<rect x="2917.5" y="500.1" width="25.6" height="24"/>
<rect x="3075.4" y="493.3" width="25.6" height="24"/>
<rect x="2553.5" y="579.2" width="25.6" height="24"/>
<rect x="2711.0" y="578.3" width="25.6" height="24"/>
<rect x="2861.5" y="578.3" width="25.6" height="24"/>
<rect x="3020.5" y="582.3" width="25.6" height="24"/>
<rect x="2355.6" y="658.8" width="25.6" height="24"/>
<rect x="2505.2" y="658.5" width="25.6" height="24"/>
<rect x="2655.7" y="658.7" width="25.6" height="24"/>
<rect x="2807.0" y="662.0" width="25.6" height="24"/>
<rect x="2964.5" y="656.6" width="25.6" height="24"/>
<rect x="2298.7" y="736.0" width="25.6" height="24"/>
<rect x="2450.1" y="740.0" width="25.6" height="24"/>
<rect x="2608.8" y="733.6" width="25.6" height="24"/>
<rect x="2759.4" y="736.4" width="25.6" height="24"/>
<rect x="2909.4" y="735.5" width="25.6" height="24"/>
<rect x="2244.5" y="816.0" width="25.6" height="24"/>
<rect x="2394.9" y="814.6" width="25.6" height="24"/>
<rect x="2553.5" y="815.0" width="25.6" height="24"/>
<rect x="2703.3" y="815.0" width="25.6" height="24"/>
<rect x="2854.2" y="815.0" width="25.6" height="24"/>
<rect x="2189.2" y="894.3" width="25.6" height="24"/>
<rect x="2339.2" y="894.5" width="25.6" height="24"/>
<rect x="2497.5" y="894.5" width="25.6" height="24"/>
<rect x="2648.3" y="894.5" width="25.6" height="24"/>
<rect x="2798.7" y="894.5" width="25.6" height="24"/>
<rect x="3149.2" y="783.2" width="25.6" height="24"/>
</g><g fill="url(#rg)" stroke="#fff" stroke-opacity="0.3" stroke-width="4" paint-order="stroke">
<ellipse cx="3152.3" cy="207.5" rx="14.6" ry="12.8"/>
<ellipse cx="3303.1" cy="199.8" rx="14.6" ry="12.8"/>
<ellipse cx="2938.7" cy="283.5" rx="14.6" ry="12.8"/>
<ellipse cx="3089.2" cy="274.5" rx="14.6" ry="12.8"/>
<ellipse cx="3247.1" cy="273.5" rx="14.6" ry="12.8"/>
<ellipse cx="2724.7" cy="372.5" rx="14.6" ry="12.8"/>
<ellipse cx="2874.9" cy="359.5" rx="14.6" ry="12.8"/>
<ellipse cx="3033.4" cy="351.5" rx="14.6" ry="12.8"/>
<ellipse cx="3191.8" cy="351.1" rx="14.6" ry="12.8"/>
<ellipse cx="2534.7" cy="446.7" rx="14.6" ry="12.8"/>
<ellipse cx="2668.8" cy="437.3" rx="14.6" ry="12.8"/>
<ellipse cx="2827.3" cy="430.8" rx="14.6" ry="12.8"/>
<ellipse cx="2977.8" cy="437.6" rx="14.6" ry="12.8"/>
<ellipse cx="2471.4" cy="511.2" rx="14.6" ry="12.8"/>
<ellipse cx="2622.0" cy="518.5" rx="14.6" ry="12.8"/>
<ellipse cx="2772.0" cy="504.5" rx="14.6" ry="12.8"/>
<ellipse cx="2415.4" cy="591.7" rx="14.6" ry="12.8"/>
<ellipse cx="3161.6" cy="861.9" rx="14.6" ry="12.8"/>
</g><g fill="#0a1ed0" stroke="#fff" stroke-opacity="0.3" stroke-width="4" paint-order="stroke">
<path d="M2661.7,365.5 L2693.2,365.5 L2678.4,340.5 L2676.4,340.5Z"/>
<path d="M2717.1,282.3 L2748.6,282.3 L2733.8,257.3 L2731.8,257.3Z"/>
<path d="M2851.6,294.8 L2883.1,294.8 L2868.3,269.8 L2866.3,269.8Z"/>
<path d="M2978.2,200.8 L3009.8,200.8 L2995.0,175.8 L2993.0,175.8Z"/>
<path d="M3065.2,213.5 L3096.8,213.5 L3082.0,188.5 L3080.0,188.5Z"/>
<path d="M3358.2,120.5 L3389.8,120.5 L3375.0,95.5 L3373.0,95.5Z"/>
<path d="M3493.2,109.3 L3524.8,109.3 L3510.0,84.3 L3508.0,84.3Z"/>
<path d="M3146.8,939.7 L3178.2,939.7 L3163.5,914.7 L3161.5,914.7Z"/>
</g><g fill="#0a1060">
</g></g></g>
<rect x="2149.3" y="37.3" width="1417.1999999999998" height="944.9000000000001" fill="none" stroke="#000" stroke-width="4.7"/>
<path d="M407.0,930.6h17 M407.0,821.4h17 M407.0,712.2h17 M407.0,603.0h17 M407.0,493.8h17 M407.0,384.6h17 M407.0,275.4h17 M407.0,166.2h17 M407.0,57.0h17 M514.6,982.2v-17 M732.7,982.2v-17 M950.8,982.2v-17 M1169.0,982.2v-17 M1387.1,982.2v-17 M1605.2,982.2v-17 M2149.3,824.7h17 M2149.3,667.2h17 M2149.3,509.8h17 M2149.3,352.3h17 M2149.3,194.8h17 M2228.4,982.2v-17 M2385.8,982.2v-17 M2543.3,982.2v-17 M2700.7,982.2v-17 M2858.2,982.2v-17 M3015.6,982.2v-17 M3173.0,982.2v-17 M3330.5,982.2v-17 M3487.9,982.2v-17" stroke="#000" stroke-width="4.6" fill="none"/>
<g stroke="#000" stroke-width="0.6" stroke-linejoin="round">
<text x="375" y="950.0" font-size="67" text-anchor="end" >1</text>
<text x="375" y="840.8" font-size="67" text-anchor="end" >2</text>
<text x="375" y="731.6" font-size="67" text-anchor="end" >3</text>
<text x="375" y="622.4" font-size="67" text-anchor="end" >4</text>
<text x="375" y="513.2" font-size="67" text-anchor="end" >5</text>
<text x="375" y="404.0" font-size="67" text-anchor="end" >6</text>
<text x="375" y="294.8" font-size="67" text-anchor="end" >7</text>
<text x="375" y="185.6" font-size="67" text-anchor="end" >8</text>
<text x="375" y="76.4" font-size="67" text-anchor="end" >9</text>
<text x="514.6" y="1054" font-size="67" text-anchor="middle" >20</text>
<text x="732.7" y="1054" font-size="67" text-anchor="middle" >40</text>
<text x="950.8" y="1054" font-size="67" text-anchor="middle" >60</text>
<text x="1169.0" y="1054" font-size="67" text-anchor="middle" >80</text>
<text x="1387.1" y="1054" font-size="67" text-anchor="middle" >100</text>
<text x="1605.2" y="1054" font-size="67" text-anchor="middle" >120</text>
<text x="1823.3" y="1054" font-size="67" text-anchor="middle" >140</text>
<text x="2125" y="999.7" font-size="67" text-anchor="end" >0</text>
<text x="2125" y="842.2" font-size="67" text-anchor="end" >2</text>
<text x="2125" y="684.7" font-size="67" text-anchor="end" >4</text>
<text x="2125" y="527.3" font-size="67" text-anchor="end" >6</text>
<text x="2125" y="369.8" font-size="67" text-anchor="end" >8</text>
<text x="2125" y="212.3" font-size="67" text-anchor="end" >10</text>
<text x="2125" y="54.8" font-size="67" text-anchor="end" >12</text>
<text x="2228.4" y="1054" font-size="67" text-anchor="middle" >20</text>
<text x="2385.8" y="1054" font-size="67" text-anchor="middle" >40</text>
<text x="2543.3" y="1054" font-size="67" text-anchor="middle" >60</text>
<text x="2700.7" y="1054" font-size="67" text-anchor="middle" >80</text>
<text x="2858.2" y="1054" font-size="67" text-anchor="middle" >100</text>
<text x="3015.6" y="1054" font-size="67" text-anchor="middle" >120</text>
<text x="3173.0" y="1054" font-size="67" text-anchor="middle" >140</text>
<text x="3330.5" y="1054" font-size="67" text-anchor="middle" >160</text>
<text x="3487.9" y="1054" font-size="67" text-anchor="middle" >180</text>
<text x="1116" y="1148.8" font-size="67" text-anchor="middle" >Pressure/GPa</text>
<text x="2858" y="1148.8" font-size="67" text-anchor="middle" >Pressure/GPa</text>
<text transform="translate(288.7,467.5) rotate(-90)" font-size="67" text-anchor="middle">Temperature/(10<tspan font-size="39" dy="-22">3</tspan><tspan dy="22"> K)</tspan></text>
<text transform="translate(2019,485) rotate(-90)" font-size="67" text-anchor="middle">Temperature/(10<tspan font-size="39" dy="-22">3</tspan><tspan dy="22"> K)</tspan></text>
<text x="453" y="102.3" font-size="67">(a) CaSiO<tspan font-size="38" dy="15">2.5</tspan></text>
<text x="2196.5" y="135.6" font-size="67">(b) CaSiO<tspan font-size="38" dy="15">2.96</tspan></text>
<text x="1244" y="378.8" font-size="67" text-anchor="start" >Early Earth geotherm</text>
<text x="1329" y="703.7" font-size="67" text-anchor="start" >Modern geotherm</text>
<text x="2986.5" y="492.7" font-size="67" text-anchor="start" >Early Earth geotherm</text>
<text x="2833.5" y="720.6" font-size="67" text-anchor="start" >Modern geotherm</text>
<text x="1468" y="812.5" font-size="67" text-anchor="start" >Solid</text>
<text x="1468" y="877.8" font-size="67" text-anchor="start" >Superionic</text>
<text x="1468" y="942.6" font-size="67" text-anchor="start" >Liquid</text>
<text x="3211" y="812.5" font-size="67" text-anchor="start" >Solid</text>
<text x="3211" y="877.6" font-size="67" text-anchor="start" >Superionic</text>
<text x="3211" y="943.0" font-size="67" text-anchor="start" >Liquid</text>
</g>
</svg>
</body></html>
